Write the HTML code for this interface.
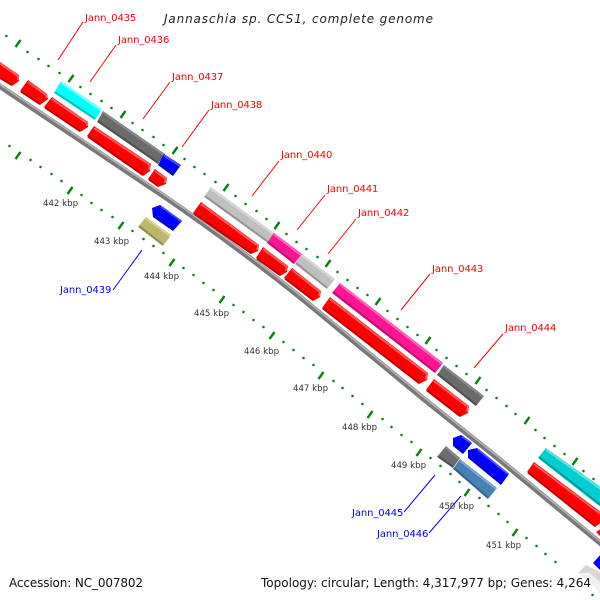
<!DOCTYPE html>
<html><head><meta charset="utf-8"><style>html,body{margin:0;padding:0;background:#fff}svg{display:block}
.l{font:10px "DejaVu Sans",sans-serif;letter-spacing:-.1px}.k{font:8.6px "DejaVu Sans",sans-serif;fill:#333}.t{font:12px "DejaVu Sans",sans-serif;fill:#111}
.h{fill:none;stroke-width:2;stroke-linejoin:round}</style></head><body>
<svg width="600" height="600" viewBox="0 0 600 600" xmlns="http://www.w3.org/2000/svg">
<!-- backbone -->
<path d="M-5 83L165 197Q235 245 300 297L425 400L500 460L605 547" fill="none" stroke="#787878" stroke-width="5.500"/>
<path d="M-5 81.200L165 195.200Q235 243.200 300 295.200L425 398.200L500 458.200L605 545.200" fill="none" stroke="#b0b0b0" stroke-width="1.800"/>
<!-- ticks -->
<g stroke="#0a800a" stroke-width="2.400" fill="none">
<path d="M6 37l.7-2M27 53l1-2M38 60l1-2M48 67l1-2M59 74l1-2M80 88l1-2M90 95l1-2M101 102l1-2M111 109l1-2M132 124l1-2M142 131l1-2M153 138l1-2M163 146l1-2M184 160l1-2M194 168l1-2M204 175l1-2M215 183l1-2M235 197l1-2M245 205l1-2M256 212l1-2M266 220l1-2M286 235l1-2M296 243l1-2M306 250l1-2M317 258l1-2M337 273l1-2M347 281l1-2M357 289l1-2M367 296l1-2M387 312l1-2M397 320l1-2M407 328l1-2M417 336l1-2M436 351l1-2M446 359l1-2M456 367l1-2M466 375l1-2M486 391l1-2M496 399l1-2M506 407l1-2M515 415l1-2M535 431l1-2M544 439l1-2M554 447l1-2M564 455l1-2M583 472l1-2M593 480l1-2"/>
<path d="M9 147l1-2M30 161l1-2M40 168l1-2M51 175l1-2M61 182l1-2M81 196l1-2M91 204l1-2M101 211l1-2M112 218l1-2M132 232l1-2M143 240l1-2M153 247l1-2M163 254l1-2M183 269l1-2M193 276l1-2M203 284l1-2M213 291l1-2M233 306l1-2M243 313l1-2M253 321l1-2M263 328l1-2M283 343l1-2M293 351l1-2M303 359l1-2M313 366l1-2M333 382l1-2M342 389l1-2M352 397l1-2M362 405l1-2M382 420l1-2M391 428l1-2M401 436l1-2M411 443l1-2M430 459l1-2M440 467l1-2M450 475l1-2M459 483l1-2M479 499l1-2M488 507l1-2M498 515l1-2M507 523l1-2M526 539l1-2M536 547l1-2M545 555l1-2M555 563l1-2M592 596l1-2"/>
<path d="M15.500 47l5-7M68.500 82l5-7M120.500 118l5-7M172.500 154l5-7M223.500 191l5-7M274.500 229l5-7M325.500 267l5-7M375.500 305l5-7M425.500 344l5-7M475.500 384l5-7M524.500 424l5-7M572.500 465l5-7"/>
<path d="M15.500 159l5-7M67.500 194l5-7M118.500 229l5-7M169.500 266l5-7M219.500 303l5-7M269.500 339l5-7M318.500 379l5-7M367.500 418l5-7M416.500 456l5-7M464.500 496l5-7M512.500 536l5-7"/>
</g>
<!-- leaders -->
<g stroke="#f00" fill="none"><path d="M83 22L58 60M116 45L90 82M170 82L143 119M209 110L182 147M279 161L252 196M325 195L297 230M356 219L328 254M430 274L401 310M503 334L474 368"/></g>
<g stroke="#00f" fill="none"><path d="M113 290L142 250M404 512L435 475M429 533L461 496"/></g>
<!-- red arrows -->
<g fill="#f00">
<path d="M-2 60.500L19 75V81L12 86L-2 77ZM28 80L47 94L48 99L40 105L20 91ZM52 97L88 122V127L80 132L44 107ZM94 126L151 164L150 171L143 176L87 136ZM155 169L167 178L166 184L158 187L148 179ZM201 202L259 245L258 251L251 254L193 213ZM263 247L288 266L287 272L280 276L256 258ZM292 268L321 291L320 297L313 301L284 278ZM330 297L428 373L427 380L419 384L322 308ZM434 379L469 406L468 413L460 417L426 390ZM534 462L602 513V522L595 527L527 472ZM602 528V538L596 532Z"/>
</g>
<g class="h" stroke="#ff5a5a"><path d="M-2 62L18 76V80M28 82L46 95L47 98M52 99L87 123V126M94 128L150 165L149 170M155 171L166 179L165 183M201 204L258 246L257 250M263 249L287 267L286 271M292 270L320 292L319 296M330 299L427 374L426 379M434 381L468 407L467 412M534 464L602 515"/></g>
<g class="h" stroke="#c40000"><path d="M0 78L12 85M21 91.500L40 104M45 107.500L80 131M88 136.500L143 175M149 179.500L158 186M194 213.500L251 253M257 258.500L280 275M285 278.500L313 300M323 308.500L419 383M427 390.500L460 416M528 472.500L595 526"/></g>
<!-- rectangular genes -->
<polygon points="61,81 102,109 95,120 54,93" fill="#0ff"/>
<path class="h" stroke="#80ffff" d="M61 82.500L101 110"/><path class="h" stroke="#00c4c4" d="M55 92L95 118.800"/>
<polygon points="103,111 165,154 158,164 97,122" fill="#6b6b6b"/>
<path class="h" stroke="#8a8a8a" d="M103 112.500L164 155"/><path class="h" stroke="#505050" d="M98 121L158 162.800"/>
<polygon points="164,154 181,165 173,176 158,165" fill="#00f"/>
<path class="h" stroke="#4d4dff" d="M164 155.500L180 166"/><path class="h" stroke="#0000b8" d="M159 164L173 174.800"/>
<polygon points="211,187 274,233 268,243 204,197" fill="#c0c0c0"/>
<path class="h" stroke="#d8d8d8" d="M211 188.500L273 234"/><path class="h" stroke="#949494" d="M205 196L268 241.800"/>
<polygon points="274,233 302,254 294,264 267,243" fill="#ff1493"/>
<path class="h" stroke="#ff66b8" d="M274 234.500L301 255"/><path class="h" stroke="#c00f70" d="M268 242L294 262.800"/>
<polygon points="302,254 335,279 327,289 295,264" fill="#c0c0c0"/>
<path class="h" stroke="#d8d8d8" d="M302 255.500L334 280"/><path class="h" stroke="#949494" d="M296 263L327 287.800"/>
<polygon points="340,283 443,363 435,373 332,293" fill="#ff1493"/>
<path class="h" stroke="#ff66b8" d="M340 284.500L442 364"/><path class="h" stroke="#c00f70" d="M333 292L435 371.800"/>
<polygon points="444,365 484,396 476,406 437,375" fill="#6b6b6b"/>
<path class="h" stroke="#8a8a8a" d="M444 366.500L483 397"/><path class="h" stroke="#505050" d="M438 374L476 404.800"/>
<polygon points="146,217 171,235 163,246 138,227" fill="#bdb76b"/>
<path class="h" stroke="#d4d09a" d="M146 218.500L170 236"/><path class="h" stroke="#918c52" d="M139 226L163 244.800"/>
<polygon points="446,446 460,458 453,468 437,457" fill="#6b6b6b"/>
<path class="h" stroke="#8a8a8a" d="M446 447.500L459 459"/><path class="h" stroke="#505050" d="M438 456L453 466.800"/>
<polygon points="460,459 497,488 488,499 453,469" fill="#4682b4"/>
<path class="h" stroke="#7faacd" d="M460 460.500L496 489"/><path class="h" stroke="#36648b" d="M454 468L488 497.800"/>
<polygon points="546,448 602,488 602,508 538,458" fill="#00ced1"/>
<path class="h" stroke="#66e2e4" d="M546 449.500L602 490"/><path class="h" stroke="#009da0" d="M539 457L602 506"/>
<!-- blue arrows -->
<g fill="#00f"><path d="M152 208L160 205L182 221L173 231L153 217ZM453 438L461 435L472 443L463 454L453 446ZM468 450L477 448L509 474L501 485L468 458ZM593 563L602 553V572Z"/></g>
<g class="h" stroke="#4d4dff"><path d="M161 206.500L181 221M462 436.500L471 443M478 449.500L508 474"/></g>
<g class="h" stroke="#0000b8"><path d="M154 216L173 229.500M454 445L463 452.500M469 457L501 483.500"/></g>
<!-- bottom veil -->
<rect x="256" y="572" width="339" height="20" fill="#fff" opacity=".82"/>
<!-- corner gray -->
<polygon points="578,573 586,565 602,573 602,596 595,587" fill="#d6d6d6"/>
<polygon points="578,573 595,587 602,596 602,584 590,573" fill="#f0f0f0"/>
<!-- labels -->
<g class="l" fill="#f00">
<text x="85" y="21">Jann_0435</text><text x="118" y="43">Jann_0436</text><text x="172" y="80">Jann_0437</text><text x="211" y="108">Jann_0438</text><text x="281" y="158">Jann_0440</text><text x="327" y="192">Jann_0441</text><text x="358" y="216">Jann_0442</text><text x="432" y="272">Jann_0443</text><text x="505" y="331">Jann_0444</text>
</g>
<g class="l" fill="#00f"><text x="60" y="293">Jann_0439</text><text x="352" y="516">Jann_0445</text><text x="377" y="537">Jann_0446</text></g>
<g class="k"><text x="43" y="206">442 kbp</text><text x="94" y="244">443 kbp</text><text x="144" y="279">444 kbp</text><text x="194" y="316">445 kbp</text><text x="244" y="354">446 kbp</text><text x="293" y="391">447 kbp</text><text x="342" y="430">448 kbp</text><text x="391" y="468">449 kbp</text><text x="439" y="509">450 kbp</text><text x="486" y="548">451 kbp</text></g>
<text x="164" y="23" textLength="269" style="font:italic 12px 'DejaVu Sans',sans-serif;fill:#222">Jannaschia sp. CCS1, complete genome</text>
<text class="t" x="9" y="587" textLength="134">Accession: NC_007802</text>
<text class="t" x="261" y="587" textLength="330">Topology: circular; Length: 4,317,977 bp; Genes: 4,264</text>
</svg></body></html>
